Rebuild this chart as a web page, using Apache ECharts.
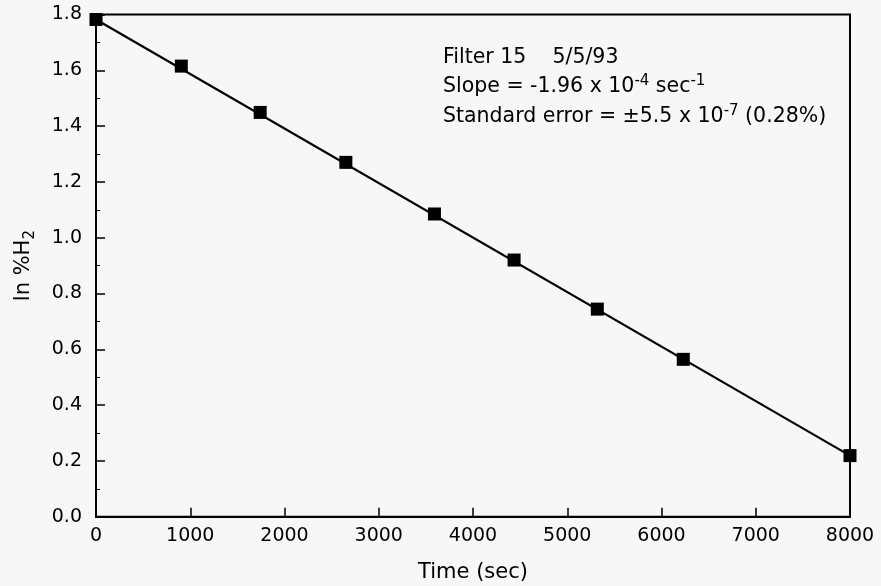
<!DOCTYPE html>
<html>
<head>
<meta charset="utf-8">
<script src="https://cdn.jsdelivr.net/npm/echarts@6/dist/echarts.min.js"></script>
<style>
  html, body { margin: 0; padding: 0; background: #f7f7f7; }
  #chart { width: 881px; height: 586px; }
</style>
</head>
<body>
<div id="chart"></div>
<script>
// measured points: time (sec) and ln %H2
const timeSec = [0, 905, 1742, 2651, 3591, 4436, 5319, 6231, 8000];
const lnH2 = [1.782, 1.615, 1.449, 1.270, 1.085, 0.920, 0.744, 0.564, 0.219];
// fitted line end points
const fitTime = [0, 8000];
const fitLnH2 = [1.782, 0.219];
const xTicks = [0, 1000, 2000, 3000, 4000, 5000, 6000, 7000, 8000];
const yTicks = [0.0, 0.2, 0.4, 0.6, 0.8, 1.0, 1.2, 1.4, 1.6, 1.8];

const chart = echarts.init(document.getElementById('chart'));
const font = '"DejaVu Sans", "Liberation Sans", Arial, sans-serif';

const option = {
    backgroundColor: '#f7f7f7',
    textStyle: { fontFamily: font, color: '#000' },
    animation: false,
    grid: {
        left: 96, right: 31, top: 14.5, bottom: 69.3,
        outerBoundsMode: 'none',
        show: true, borderColor: '#000', borderWidth: 2
    },
    xAxis: {
        type: 'value',
        min: xTicks[0], max: xTicks[xTicks.length - 1], interval: 1000,
        name: 'Time (sec)', nameLocation: 'middle', nameGap: 45,
        nameTextStyle: { fontSize: 21, color: '#000', fontFamily: font },
        axisLine: { show: true, onZero: false, lineStyle: { color: '#000', width: 2 } },
        axisTick: { inside: true, length: 9, lineStyle: { color: '#000', width: 1.5 } },
        axisLabel: { fontSize: 19, color: '#000', margin: 10, fontFamily: font, formatter: v => String(v) },
        splitLine: { show: false }
    },
    yAxis: {
        type: 'value',
        min: yTicks[0], max: yTicks[yTicks.length - 1], interval: 0.2,
        name: '{a|ln %H}{s|2}', nameLocation: 'middle', nameGap: 58,
        nameTextStyle: {
            fontSize: 21, color: '#000', fontFamily: font,
            rich: {
                a: { fontSize: 21, fontFamily: font, color: '#000', lineHeight: 28, verticalAlign: 'middle' },
                s: { fontSize: 15, fontFamily: font, color: '#000', verticalAlign: 'bottom', lineHeight: 28 }
            }
        },
        axisLine: { show: true, onZero: false, lineStyle: { color: '#000', width: 2 } },
        axisTick: { inside: true, length: 9, lineStyle: { color: '#000', width: 1.5 } },
        minorTick: { show: true, splitNumber: 2, length: 4, lineStyle: { color: '#000', width: 1 } },
        axisLabel: {
            fontSize: 19, color: '#000', margin: 14, fontFamily: font,
            formatter: v => v.toFixed(1)
        },
        splitLine: { show: false }
    },
    graphic: [{
        type: 'text',
        left: 443, top: 47,
        style: {
            text: '{n|Filter 15    5/5/93}\n' +
                  '{n|Slope = -1.96 x 10}{p|-4}{n| sec}{p|-1}\n' +
                  '{n|Standard error = \u00b15.5 x 10}{p|-7}{n| (0.28%)}',
            font: '20.5px ' + font,
            fill: '#000',
            rich: {
                n: { fontSize: 20.5, fontFamily: font, fill: '#000', lineHeight: 29.5, verticalAlign: 'bottom', padding: [0, 0, 3, 0] },
                p: { fontSize: 15, fontFamily: font, fill: '#000', lineHeight: 29.5, verticalAlign: 'top', padding: [3, 0, 0, 0] }
            }
        }
    }],
    series: [
        {
            type: 'line',
            data: fitTime.map((t, i) => [t, fitLnH2[i]]),
            showSymbol: false,
            symbol: 'none',
            lineStyle: { color: '#000', width: 2.2 },
            z: 2
        },
        {
            type: 'scatter',
            data: timeSec.map((t, i) => [t, lnH2[i]]),
            symbol: 'rect',
            symbolSize: 13,
            itemStyle: { color: '#000', opacity: 1 },
            z: 3
        }
    ]
};
chart.setOption(option);
</script>
</body>
</html>
